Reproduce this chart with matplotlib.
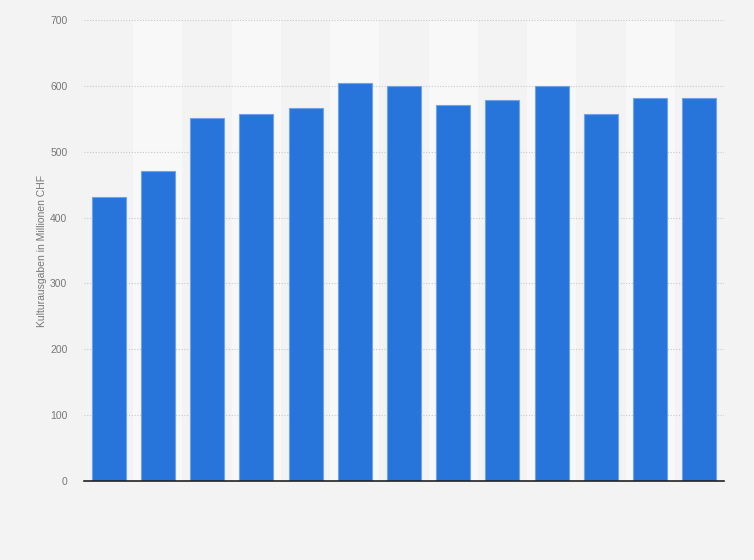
import numpy as np
import matplotlib
matplotlib.use("Agg")
import matplotlib.pyplot as plt

plt.rcParams["font.family"] = ["Liberation Sans", "DejaVu Sans"]

# Kulturausgaben in Millionen CHF, one bar per period (no x labels in the source)
positions = list(range(13))
values = [431, 471, 551, 558, 567, 604, 600, 571, 578, 600, 558, 582, 582]
y_ticks = [0, 100, 200, 300, 400, 500, 600, 700]

BG = "#f3f3f3"
BAND = "#f8f8f8"
BAR = "#2775db"

fig = plt.figure(figsize=(7.54, 5.6), dpi=100, facecolor=BG)
ax = fig.add_axes([84 / 754, 79 / 560, 640 / 754, 461 / 560])
ax.set_facecolor(BG)

# alternating light column bands
for i in positions:
    if i % 2 == 1:
        ax.axvspan(i - 0.5, i + 0.5, color=BAND, zorder=0, lw=0)

ax.bar(positions, values, width=0.69, color=BAR, edgecolor="#6fa3ea",
       linewidth=0.8, zorder=3)

ax.set_xlim(-0.5, len(positions) - 0.5)
ax.set_ylim(0, 700)
ax.set_yticks(y_ticks)
ax.set_yticklabels([str(t) for t in y_ticks], fontsize=7.5, color="#777777")
ax.set_xticks([])
ax.tick_params(axis="y", length=0, pad=12)
ax.yaxis.grid(True, linestyle=(0, (1, 1.5)), color="#c8c8c8", linewidth=0.8, zorder=1)

for side in ["top", "right", "left"]:
    ax.spines[side].set_visible(False)
ax.spines["bottom"].set_color("#222222")
ax.spines["bottom"].set_linewidth(1.2)
ax.spines["bottom"].set_zorder(4)

ax.set_ylabel("Kulturausgaben in Millionen CHF", fontsize=7.5, color="#777777", labelpad=2)

fig.savefig("out.png", dpi=100, facecolor=BG)
